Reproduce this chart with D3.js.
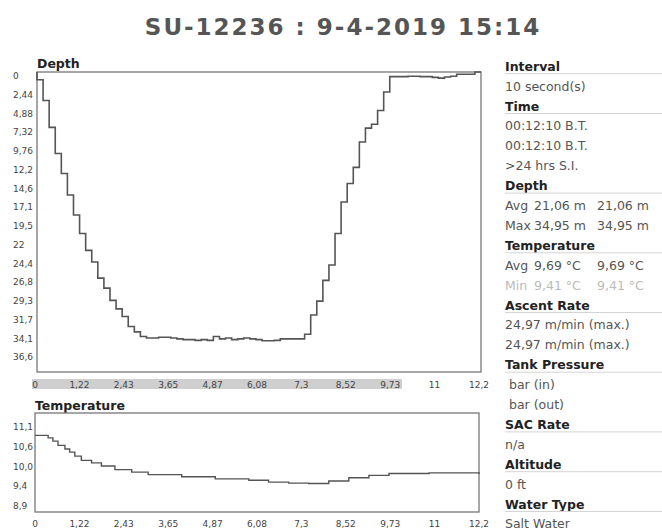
<!DOCTYPE html>
<html>
<head>
<meta charset="utf-8">
<script src="https://cdn.jsdelivr.net/npm/d3@7"></script>
<style>
body { margin: 0; background: #fff; }
svg text { font-family: "DejaVu Sans", Verdana, sans-serif; }
</style>
</head>
<body>
<div id="viz"></div>
<script>
// dive log data
const title = "SU-12236 : 9-4-2019 15:14";
const intervalSec = 10;

// depth (m) per sample, every 10 s
const depthSamples = [
  0, 1.0, 3.7, 7.2, 10.6, 13.2, 16.0, 18.6, 21.0, 23.2,
  24.7, 26.8, 28.1, 29.7, 30.8, 31.8, 33.1, 33.8, 34.4, 34.6,
  34.6, 34.5, 34.5, 34.6, 34.7, 34.8, 34.8, 34.9, 34.8, 34.9,
  34.4, 34.7, 34.6, 34.8, 34.7, 34.6, 34.7, 34.8, 34.95, 34.95,
  34.9, 34.7, 34.7, 34.7, 34.7, 34.1, 31.6, 29.8, 27.1, 25.1,
  21.0, 16.9, 14.5, 12.4, 9.1, 7.3, 6.8, 5.0, 2.6, 0.6,
  0.6, 0.6, 0.55, 0.55, 0.6, 0.6, 0.7, 0.8, 0.65, 0.55,
  0.3, 0.3, 0.3, 0
];

// temperature (°C) against time (min)
const tempTimes = [0, 0.13, 0.36, 0.49, 0.63, 0.82, 0.95, 1.09, 1.27, 1.55, 1.82, 2.19, 2.65, 3.1,
  4.02, 4.94, 5.86, 6.4, 6.95, 7.5, 8.05, 8.6, 9.15, 9.7, 10.8, 11.7, 12.17];
const tempValues = [10.76, 10.76, 10.69, 10.6, 10.48, 10.38, 10.29, 10.18, 10.06, 9.99, 9.9, 9.8, 9.73, 9.66,
  9.6, 9.54, 9.5, 9.45, 9.42, 9.41, 9.48, 9.57, 9.64, 9.69, 9.71, 9.71, 9.68];

// axes
const depthTickValues = [0, 2.4384, 4.8768, 7.3152, 9.7536, 12.192, 14.6304, 17.0688, 19.5072,
  21.9456, 24.384, 26.8224, 29.2608, 31.6992, 34.1376, 36.576];
const depthTickLabels = ["0", "2,44", "4,88", "7,32", "9,76", "12,2", "14,6", "17,1", "19,5",
  "22", "24,4", "26,8", "29,3", "31,7", "34,1", "36,6"];
const timeTickValues = [0, 1.2167, 2.4333, 3.65, 4.8667, 6.0833, 7.3, 8.5167, 9.7333, 10.95, 12.1667];
const timeTickLabels = ["0", "1,22", "2,43", "3,65", "4,87", "6,08", "7,3", "8,52", "9,73", "11", "12,2"];
const tempTickValues = [11.11, 10.56, 10.0, 9.44, 8.89];
const tempTickLabels = ["11,1", "10,6", "10,0", "9,4", "8,9"];

// side panel: [kind, text, col1, col2]
const infoRows = [
  ["h", "Interval"],
  ["t", "10 second(s)"],
  ["h", "Time"],
  ["t", "00:12:10 B.T."],
  ["t", "00:12:10 B.T."],
  ["t", ">24 hrs S.I."],
  ["h", "Depth"],
  ["t", "Avg", "21,06 m", "21,06 m"],
  ["t", "Max", "34,95 m", "34,95 m"],
  ["h", "Temperature"],
  ["t", "Avg", "9,69 °C", "9,69 °C"],
  ["f", "Min", "9,41 °C", "9,41 °C"],
  ["h", "Ascent Rate"],
  ["t", "24,97 m/min (max.)"],
  ["t", "24,97 m/min (max.)"],
  ["h", "Tank Pressure"],
  ["t", " bar (in)"],
  ["t", " bar (out)"],
  ["h", "SAC Rate"],
  ["t", "n/a"],
  ["h", "Altitude"],
  ["t", "0 ft"],
  ["h", "Water Type"],
  ["t", "Salt Water"]
];

const W = 662, H = 531;
const svg = d3.select("#viz").append("svg")
  .attr("width", W)
  .attr("height", H);

svg.append("text")
  .attr("x", 343).attr("y", 35)
  .attr("text-anchor", "middle")
  .attr("font-size", 23)
  .attr("font-weight", "bold")
  .attr("letter-spacing", 2)
  .attr("fill", "#555")
  .text(title);

const x = d3.scaleLinear().domain([0, 12.1667]).range([37, 481]);
const yDepth = d3.scaleLinear().domain([0, 39.014]).range([72, 372]);
const yTemp = d3.scaleLinear().domain([8.611, 11.389]).range([512, 413]);

// ---- depth chart
svg.append("text")
  .attr("x", 37).attr("y", 68)
  .attr("font-size", 12.5).attr("font-weight", "bold").attr("fill", "#222")
  .text("Depth");

// grey band behind the time labels
svg.append("rect")
  .attr("x", 32).attr("y", 379)
  .attr("width", 370).attr("height", 10)
  .attr("fill", "#cfcfcf");

svg.append("rect")
  .attr("x", 37).attr("y", 72)
  .attr("width", 444).attr("height", 300)
  .attr("fill", "none").attr("stroke", "#777").attr("stroke-width", 1.3);

svg.append("g").selectAll("text")
  .data(depthTickValues)
  .join("text")
  .attr("x", 13)
  .attr("y", d => yDepth(d) + 7)
  .attr("font-size", 9).attr("fill", "#444")
  .text((d, i) => depthTickLabels[i]);

svg.append("g").selectAll("text")
  .data(timeTickValues)
  .join("text")
  .attr("x", d => x(d) - 2)
  .attr("y", 387.5)
  .attr("text-anchor", "middle")
  .attr("font-size", 9).attr("fill", "#444")
  .text((d, i) => timeTickLabels[i]);

const depthLine = d3.line()
  .x((d, i) => x(i * intervalSec / 60))
  .y(d => yDepth(d))
  .curve(d3.curveStepBefore);

svg.append("path")
  .datum(depthSamples)
  .attr("d", depthLine)
  .attr("fill", "none")
  .attr("stroke", "#555")
  .attr("stroke-width", 1.6);

// ---- temperature chart
svg.append("text")
  .attr("x", 35).attr("y", 410)
  .attr("font-size", 12.5).attr("font-weight", "bold").attr("fill", "#222")
  .text("Temperature");

svg.append("rect")
  .attr("x", 35).attr("y", 413)
  .attr("width", 444).attr("height", 99)
  .attr("fill", "none").attr("stroke", "#777").attr("stroke-width", 1.3);

svg.append("g").selectAll("text")
  .data(tempTickValues)
  .join("text")
  .attr("x", 13)
  .attr("y", d => yTemp(d) + 7)
  .attr("font-size", 9).attr("fill", "#444")
  .text((d, i) => tempTickLabels[i]);

svg.append("g").selectAll("text")
  .data(timeTickValues)
  .join("text")
  .attr("x", d => x(d) - 2)
  .attr("y", 527)
  .attr("text-anchor", "middle")
  .attr("font-size", 9).attr("fill", "#444")
  .text((d, i) => timeTickLabels[i]);

const tempLine = d3.line()
  .x((d, i) => x(tempTimes[i]) - 2)
  .y(d => yTemp(d))
  .curve(d3.curveStepAfter);

svg.append("path")
  .datum(tempValues)
  .attr("d", tempLine)
  .attr("fill", "none")
  .attr("stroke", "#555")
  .attr("stroke-width", 1.4);

// ---- info panel
const rowY = k => 70.7 + k * 19.9;
const panel = svg.append("g");

infoRows.forEach((r, k) => {
  const y = rowY(k);
  if (r[0] === "h") {
    panel.append("text")
      .attr("x", 505).attr("y", y)
      .attr("font-size", 12.5).attr("font-weight", "bold").attr("fill", "#222")
      .text(r[1]);
    panel.append("line")
      .attr("x1", 505).attr("x2", W)
      .attr("y1", y + 3).attr("y2", y + 3)
      .attr("stroke", "#d4d4d4").attr("stroke-width", 1);
  } else {
    const col = r[0] === "f" ? "#bbb" : "#555";
    panel.append("text")
      .attr("x", 505).attr("y", y)
      .attr("font-size", 12.5).attr("fill", col)
      .style("white-space", "pre")
      .text(r[1]);
    if (r.length > 2) {
      panel.append("text").attr("x", 534).attr("y", y)
        .attr("font-size", 12.5).attr("fill", col).text(r[2]);
      panel.append("text").attr("x", 597).attr("y", y)
        .attr("font-size", 12.5).attr("fill", col).text(r[3]);
    }
  }
});
</script>
</body>
</html>
